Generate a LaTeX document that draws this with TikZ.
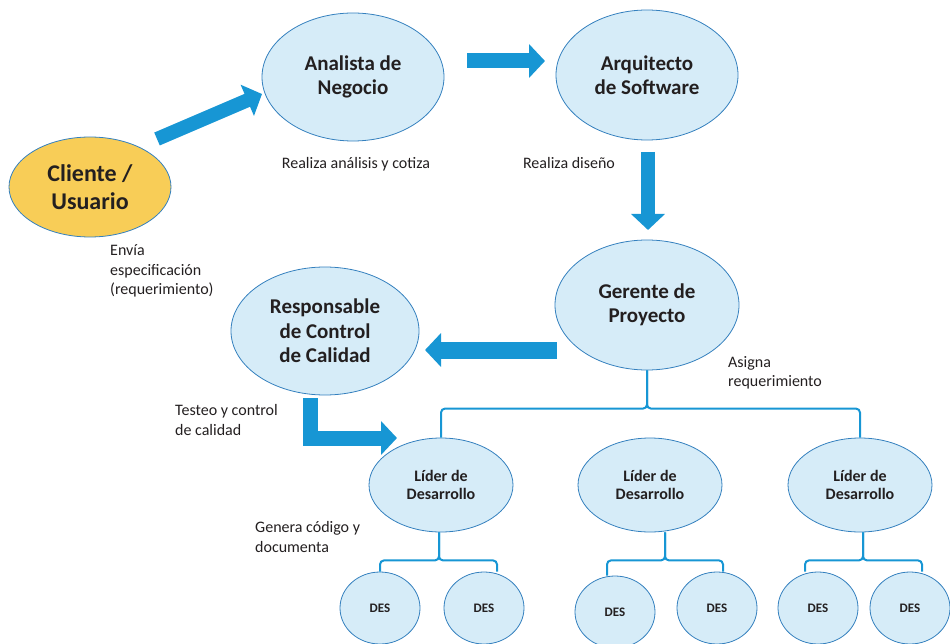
\documentclass[tikz,border=0pt]{standalone}
\usepackage{fontspec}
\setmainfont{Carlito}
\usetikzlibrary{shapes.geometric,arrows.meta,calc}
\definecolor{arrowblue}{RGB}{23,150,212}
\definecolor{ellfill}{RGB}{214,236,248}
\definecolor{ellline}{RGB}{52,128,190}
\definecolor{cliyellow}{RGB}{248,205,87}
\definecolor{txt}{RGB}{35,31,32}
\begin{document}
\begin{tikzpicture}[x=1pt,y=-1pt,
  role/.style={ellipse,draw=ellline,line width=0.8pt,fill=ellfill,inner sep=0pt,align=center,
    text=txt,font=\fontsize{21}{24.5}\selectfont\bfseries},
  lider/.style={role,minimum width=144pt,minimum height=94pt,font=\fontsize{16}{18.5}\selectfont\bfseries},
  desnode/.style={role,minimum width=80pt,minimum height=72pt,font=\fontsize{13}{15}\selectfont\bfseries},
  lbl/.style={font=\fontsize{16}{19.5}\selectfont,text=txt,align=left,inner sep=0pt},
  bigarrow/.style={draw=arrowblue,line width=#1,line join=miter,-{Triangle[length=16pt,width=33pt]}},
  bigarrow/.default=14pt,
  brace/.style={draw=arrowblue,line width=2pt,rounded corners=4pt}]
\useasboundingbox (0,0) rectangle (950,644);

% main roles
\node[role,fill=cliyellow,minimum width=162pt,minimum height=100pt,
      font=\fontsize{24}{28}\selectfont\bfseries] (cli) at (90,187) {Cliente /\\Usuario};
\node[role,minimum width=182pt,minimum height=128pt] (ana) at (353,77) {Analista de\\Negocio};
\node[role,minimum width=182pt,minimum height=130pt] (arq) at (647,75) {Arquitecto\\de Software};
\node[role,minimum width=184pt,minimum height=130pt] (ger) at (647,305) {Gerente de\\Proyecto};
\node[role,minimum width=188pt,minimum height=128pt] (qa) at (325,331) {Responsable\\de Control\\de Calidad};

% leaders
\node[lider] (lid1) at (441,485) {Líder de\\Desarrollo};
\node[lider] (lid2) at (650,485) {Líder de\\Desarrollo};
\node[lider] (lid3) at (860,485) {Líder de\\Desarrollo};

% developers
\node[desnode] (des1) at (380,608) {DES};
\node[desnode] (des2) at (484,608) {DES};
\node[desnode] (des3) at (615,612) {DES};
\node[desnode] (des4) at (717,608) {DES};
\node[desnode] (des5) at (818,608) {DES};
\node[desnode] (des6) at (910,608) {DES};

% labels
\node[lbl] (l1) at (356,164) {Realiza análisis y cotiza};
\node[lbl] (l2) at (569,163) {Realiza diseño};
\node[lbl,anchor=west] (l3) at (110,271) {Envía\\especificación\\(requerimiento)};
\node[lbl,anchor=west] (l4) at (175,420) {Testeo y control\\de calidad};
\node[lbl,anchor=west] (l5) at (255,537) {Genera código y\\documenta};
\node[lbl,anchor=west] (l6) at (728,373) {Asigna\\requerimiento};

% big block arrows
\coordinate (a1s) at (157,139);
\coordinate (a1e) at (262,94);
\draw[bigarrow=14pt] (a1s) -- (a1e);
\coordinate (a2s) at (467,61);
\coordinate (a2e) at (545,61);
\draw[bigarrow=15pt] (a2s) -- (a2e);
\coordinate (a3s) at (648,152);
\coordinate (a3e) at (648,230);
\draw[bigarrow=14pt] (a3s) -- (a3e);
\coordinate (a4s) at (557,350);
\coordinate (a4e) at (425,350);
\draw[bigarrow=17pt] (a4s) -- (a4e);
\coordinate (a5s) at (310,398);
\coordinate (a5c) at (310,438);
\coordinate (a5e) at (397,438);
\draw[bigarrow=15pt] (a5s) -- (a5c) -- (a5e);

% brackets from manager to leaders
\draw[brace] (ger.south) |- ($(lid1.north)+(0,-29)$) -- (lid1.north);
\draw[brace] (ger.south) |- ($(lid3.north)+(0,-29)$) -- (lid3.north);

% brackets from leaders to developers
\coordinate (j1) at ($(lid1.south)+(-2,28)$);
\draw[brace] (lid1.south -| j1) |- ($(j1)+(-59,0)$) -- ($(des1.north -| j1)+(-59,0)$);
\draw[brace] (lid1.south -| j1) |- ($(j1)+(58,0)$) -- ($(des2.north -| j1)+(58,0)$);
\coordinate (j2) at ($(lid2.south)+(15,28)$);
\draw[brace] (lid2.south -| j2) |- ($(j2)+(-58,0)$) -- ($(des3.north -| j2)+(-58,0)$);
\draw[brace] (lid2.south -| j2) |- ($(j2)+(58,0)$) -- ($(des4.north -| j2)+(58,0)$);
\coordinate (j3) at ($(lid3.south)+(3,28)$);
\draw[brace] (lid3.south -| j3) |- ($(j3)+(-58,0)$) -- ($(des5.north -| j3)+(-58,0)$);
\draw[brace] (lid3.south -| j3) |- ($(j3)+(59,0)$) -- ($(des6.north -| j3)+(59,0)$);
\end{tikzpicture}
\end{document}
